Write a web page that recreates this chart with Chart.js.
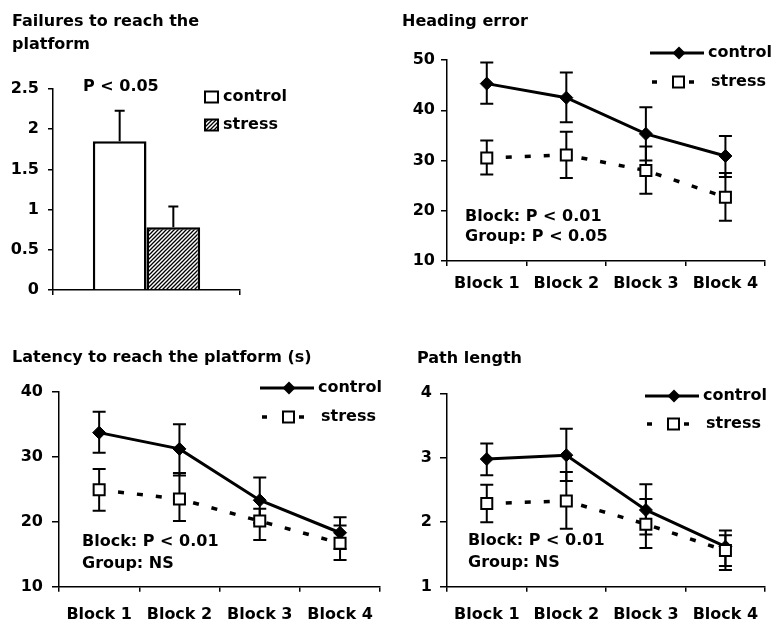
<!DOCTYPE html>
<html>
<head>
<meta charset="utf-8">
<script src="https://cdn.jsdelivr.net/npm/chart.js@4/dist/chart.umd.min.js"></script>
<style>
html, body { margin: 0; padding: 0; background: #fff; }
#page { position: relative; width: 775px; height: 624px; overflow: hidden;
  font-family: "DejaVu Sans", sans-serif; font-weight: bold; font-size: 16px; color: #000; }
#page canvas { position: absolute; }
.t { position: absolute; white-space: nowrap; line-height: 20px; }
</style>
</head>
<body>
<div id="page">
  <canvas id="cFail" width="390" height="310" style="left:0;top:0"></canvas>
  <canvas id="cHead" width="385" height="310" style="left:390px;top:0"></canvas>
  <canvas id="cLat" width="390" height="314" style="left:0;top:310px"></canvas>
  <canvas id="cPath" width="385" height="314" style="left:390px;top:310px"></canvas>

  <div class="t" style="left:12px;top:11px">Failures to reach the</div>
  <div class="t" style="left:12px;top:34px">platform</div>
  <div class="t" style="left:83px;top:76px">P &lt; 0.05</div>

  <div class="t" style="left:402px;top:11px">Heading error</div>
  <div class="t" style="left:465px;top:206px">Block: P &lt; 0.01</div>
  <div class="t" style="left:465px;top:226px">Group: P &lt; 0.05</div>

  <div class="t" style="left:12px;top:347px">Latency to reach the platform (s)</div>
  <div class="t" style="left:82px;top:531px">Block: P &lt; 0.01</div>
  <div class="t" style="left:82px;top:553px">Group: NS</div>

  <div class="t" style="left:417px;top:348px">Path length</div>
  <div class="t" style="left:468px;top:530px">Block: P &lt; 0.01</div>
  <div class="t" style="left:468px;top:552px">Group: NS</div>
</div>

<script>
// ---- data ----
const groups = ["control", "stress"];
const blocks = ["Block 1", "Block 2", "Block 3", "Block 4"];

// failures to reach the platform (bars, SEM up only)
const failMean = [1.85, 0.78];
const failHi   = [2.23, 1.04];
const failTicks = [0, 0.5, 1, 1.5, 2, 2.5];

// heading error
const headCtrl   = [45.3, 42.5, 35.3, 30.9];
const headCtrlHi = [49.5, 47.5, 40.6, 34.9];
const headCtrlLo = [41.3, 37.6, 30.0, 26.7];
const headStr    = [30.5, 31.1, 28.0, 22.7];
const headStrHi  = [34.0, 35.7, 32.8, 27.5];
const headStrLo  = [27.2, 26.5, 23.4, 18.0];
const headTicks  = [10, 20, 30, 40, 50];

// latency (s)
const latCtrl   = [33.7, 31.2, 23.3, 18.3];
const latCtrlHi = [36.9, 35.0, 26.8, 20.7];
const latCtrlLo = [30.6, 27.1, 19.8, 15.8];
const latStr    = [24.9, 23.5, 20.1, 16.7];
const latStrHi  = [28.1, 27.5, 22.0, 19.4];
const latStrLo  = [21.7, 20.1, 17.2, 14.1];
const latTicks  = [10, 20, 30, 40];

// path length
const pathCtrl   = [2.98, 3.04, 2.19, 1.62];
const pathCtrlHi = [3.22, 3.45, 2.59, 1.87];
const pathCtrlLo = [2.73, 2.64, 1.81, 1.32];
const pathStr    = [2.29, 2.33, 1.97, 1.56];
const pathStrHi  = [2.58, 2.78, 2.36, 1.80];
const pathStrLo  = [2.00, 1.90, 1.60, 1.26];
const pathTicks  = [1, 2, 3, 4];

const FONT = { family: "DejaVu Sans", size: 16, weight: "bold" };
const CSS_FONT = 'bold 16px "DejaVu Sans"';

// error bars, drawn under the markers
const errorBars = {
  id: "errorBars",
  beforeDatasetsDraw(chart, args, o){
    const ctx = chart.ctx, y = chart.scales.y;
    ctx.save();
    ctx.strokeStyle = "#000";
    ctx.lineWidth = 2;
    chart.data.datasets.forEach((ds, i) => {
      chart.getDatasetMeta(i).data.forEach((el, j) => {
        const x = el.x;
        const hi = y.getPixelForValue(ds.errHi[j]);
        const lo = y.getPixelForValue(ds.errLo ? ds.errLo[j] : ds.data[j]);
        ctx.beginPath();
        ctx.moveTo(x, lo); ctx.lineTo(x, hi);
        ctx.moveTo(x - o.cap, hi); ctx.lineTo(x + o.cap, hi);
        if (ds.errLo){ ctx.moveTo(x - o.cap, lo); ctx.lineTo(x + o.cap, lo); }
        ctx.stroke();
      });
    });
    ctx.restore();
  }
};

// legend for the bar panel
const boxKey = {
  id: "boxKey",
  afterDraw(chart, args, o){
    if (o.x == null) return;
    const ctx = chart.ctx;
    ctx.save();
    ctx.font = CSS_FONT;
    ctx.textBaseline = "middle";
    chart.data.datasets.forEach((ds, i) => {
      const y = o.y + i * o.gap;
      ctx.fillStyle = ds.backgroundColor;
      ctx.fillRect(o.x, y - 5.5, 13, 11);
      ctx.strokeStyle = "#000"; ctx.lineWidth = 2;
      ctx.strokeRect(o.x, y - 5.5, 13, 11);
      ctx.fillStyle = "#000";
      ctx.fillText(ds.label, o.x + 18, y);
    });
    ctx.restore();
  }
};

// legend for the line panels: solid line + diamond, dashed + square
const lineKey = {
  id: "lineKey",
  afterDraw(chart, args, o){
    if (o.x == null) return;
    const ctx = chart.ctx, x0 = o.x, y0 = o.y, y1 = o.y + o.gap;
    const ds = chart.data.datasets;
    ctx.save();
    ctx.strokeStyle = "#000"; ctx.fillStyle = "#000";
    ctx.lineWidth = 3;
    ctx.beginPath(); ctx.moveTo(x0, y0); ctx.lineTo(x0 + 54, y0); ctx.stroke();
    ctx.beginPath();
    ctx.moveTo(x0 + 29, y0 - 6.5); ctx.lineTo(x0 + 35.5, y0);
    ctx.lineTo(x0 + 29, y0 + 6.5); ctx.lineTo(x0 + 22.5, y0); ctx.closePath();
    ctx.fill();
    ctx.lineWidth = 3.5;
    ctx.beginPath();
    ctx.moveTo(x0 + 2, y1); ctx.lineTo(x0 + 7, y1);
    ctx.moveTo(x0 + 39, y1); ctx.lineTo(x0 + 44, y1);
    ctx.stroke();
    ctx.lineWidth = 2; ctx.fillStyle = "#fff";
    ctx.fillRect(x0 + 23, y1 - 5.5, 11, 11);
    ctx.strokeRect(x0 + 23, y1 - 5.5, 11, 11);
    ctx.fillStyle = "#000";
    ctx.font = CSS_FONT;
    ctx.textBaseline = "middle";
    ctx.fillText(ds[0].label, x0 + 58, y0);
    ctx.fillText(ds[1].label, x0 + 61, y1);
    ctx.restore();
  }
};

function hatch(){
  const c = document.createElement("canvas");
  c.width = c.height = 4;
  const g = c.getContext("2d");
  g.fillStyle = "#fff"; g.fillRect(0, 0, 4, 4);
  g.strokeStyle = "#000"; g.lineWidth = 1.3;
  g.beginPath();
  g.moveTo(0, 4); g.lineTo(4, 0);
  g.moveTo(-1, 1); g.lineTo(1, -1);
  g.moveTo(3, 5); g.lineTo(5, 3);
  g.stroke();
  return g.createPattern(c, "repeat");
}

function yScale(ticks, width, tl, pad){
  return {
    min: ticks[0], max: ticks[ticks.length - 1],
    afterBuildTicks: s => { s.ticks = ticks.map(v => ({ value: v })); },
    afterFit: s => { s.width = width; },
    border: { color: "#000", width: 1.5 },
    grid: { drawOnChartArea: false, drawTicks: true, tickLength: tl, color: "#000", lineWidth: 1.5 },
    ticks: { color: "#000", font: FONT, padding: pad, callback: v => String(v) }
  };
}

function xScale(height, pad){
  return {
    offset: true,
    afterFit: s => { s.height = height; },
    border: { color: "#000", width: 1.5 },
    grid: { offset: true, drawOnChartArea: false, drawTicks: true, tickLength: 5, color: "#000", lineWidth: 1.5 },
    ticks: { color: "#000", font: FONT, padding: pad, maxRotation: 0, autoSkip: false }
  };
}

// ---- bar panel ----
new Chart(document.getElementById("cFail"), {
  type: "bar",
  data: {
    labels: [""],
    datasets: [
      { label: groups[0], data: [failMean[0]], errHi: [failHi[0]], backgroundColor: "#fff",
        borderColor: "#000", borderWidth: 2.5 },
      { label: groups[1], data: [failMean[1]], errHi: [failHi[1]], backgroundColor: hatch(),
        borderColor: "#000", borderWidth: 2.5 }
    ]
  },
  plugins: [errorBars, boxKey],
  options: {
    responsive: false, animation: false,
    layout: { padding: { left: 0, top: 89, right: 150, bottom: 0 } },
    datasets: { bar: { categoryPercentage: 0.574, barPercentage: 1 } },
    plugins: {
      legend: { display: false }, tooltip: { enabled: false },
      errorBars: { cap: 5 },
      boxKey: { x: 205, y: 97, gap: 28 }
    },
    scales: {
      x: xScale(20, 0),
      y: yScale(failTicks, 53, 5, 9)
    }
  }
});

// ---- line panels ----
function lineChart(id, ctrl, ctrlHi, ctrlLo, str, strHi, strLo, ticks, box){
  return new Chart(document.getElementById(id), {
    type: "line",
    data: {
      labels: blocks,
      datasets: [
        { label: groups[0], data: ctrl, errHi: ctrlHi, errLo: ctrlLo, order: 1,
          borderColor: "#000", borderWidth: 3, pointStyle: "rectRot", pointRadius: 6.5,
          pointBackgroundColor: "#000", pointBorderColor: "#000", pointBorderWidth: 1 },
        { label: groups[1], data: str, errHi: strHi, errLo: strLo, order: 0,
          borderColor: "#000", borderWidth: 3.5, borderDash: [6, 13], pointStyle: "rect",
          pointRadius: 7.8, pointBackgroundColor: "#fff", pointBorderColor: "#000", pointBorderWidth: 2 }
      ]
    },
    plugins: [errorBars, lineKey],
    options: {
      responsive: false, animation: false,
      layout: { padding: { left: 0, top: box.top, right: 0, bottom: 0 } },
      plugins: {
        legend: { display: false }, tooltip: { enabled: false },
        errorBars: { cap: 6.5 },
        lineKey: { x: box.keyX, y: box.keyY, gap: box.keyGap }
      },
      scales: {
        x: xScale(box.xh, box.xpad),
        y: yScale(ticks, box.yw, box.tl, box.ypad)
      }
    }
  });
}

lineChart("cHead", headCtrl, headCtrlHi, headCtrlLo, headStr, headStrHi, headStrLo, headTicks,
  { top: 60, xh: 49, xpad: 8, yw: 57, tl: 6, ypad: 6, keyX: 260, keyY: 53, keyGap: 29 });
lineChart("cLat", latCtrl, latCtrlHi, latCtrlLo, latStr, latStrHi, latStrLo, latTicks,
  { top: 81.7, xh: 37.3, xpad: 14, yw: 59, tl: 7, ypad: 9, keyX: 260, keyY: 78, keyGap: 29 });
lineChart("cPath", pathCtrl, pathCtrlHi, pathCtrlLo, pathStr, pathStrHi, pathStrLo, pathTicks,
  { top: 83.3, xh: 37.3, xpad: 14, yw: 57, tl: 7, ypad: 8, keyX: 255, keyY: 86, keyGap: 28 });
</script>
</body>
</html>
